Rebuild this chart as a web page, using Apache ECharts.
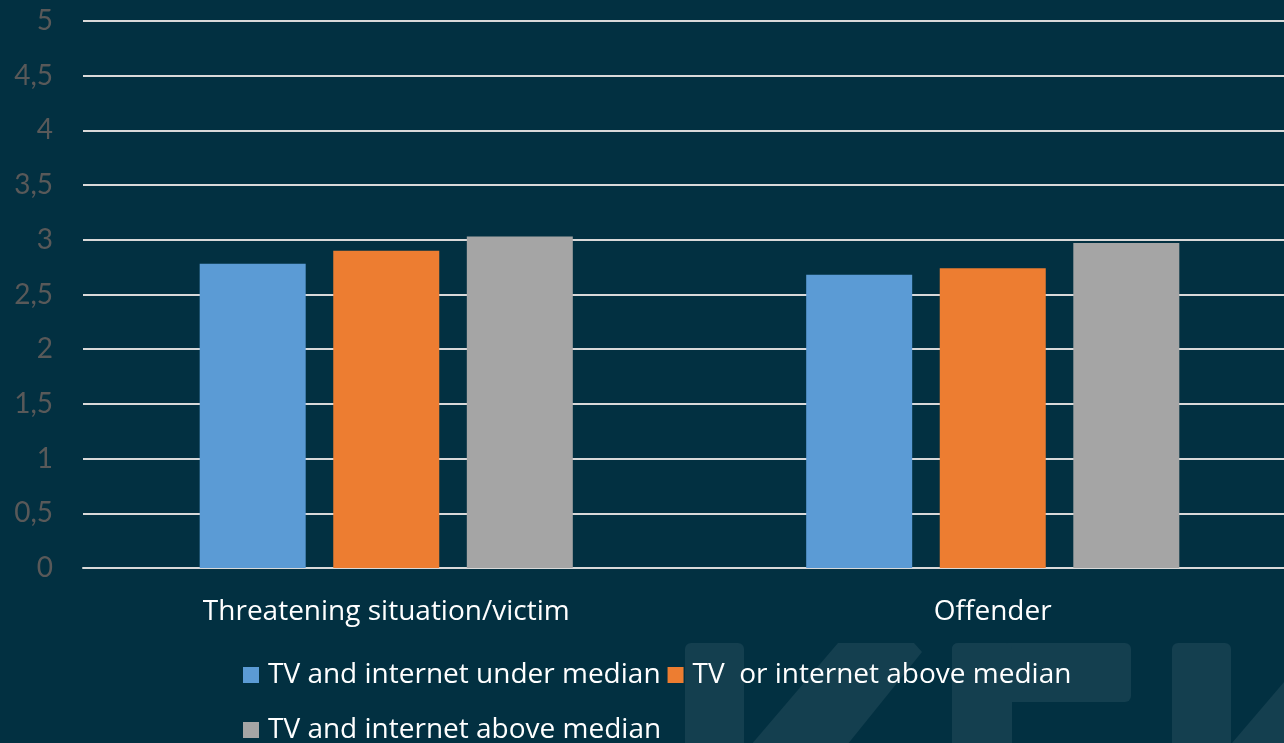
<!DOCTYPE html>
<html>
<head>
<meta charset="utf-8">
<script src="https://cdn.jsdelivr.net/npm/echarts@6/dist/echarts.min.js"></script>
<style>
html,body{margin:0;padding:0;background:#023041;overflow:hidden;width:1284px;height:743px;}
#chart{width:1296px;height:743px;}
</style>
</head>
<body>
<div id="chart"></div>
<script>
const categories = ['Threatening situation/victim', 'Offender'];
const seriesNames = ['TV and internet under median', 'TV  or internet above median', 'TV and internet above median'];
const underMedian = [2.78, 2.68];
const eitherAbove = [2.90, 2.74];
const bothAbove = [3.03, 2.97];
const yTicks = { min: 0, max: 5, interval: 0.5 };

const colors = ['#5B9BD5', '#ED7D31', '#A5A5A5'];
const wm = '#143f4f';
const FONT = '"Open Sans"';

const chart = echarts.init(document.getElementById('chart'), null, { renderer: 'canvas' });
chart.setOption({
  backgroundColor: '#023041',
  animation: false,
  color: colors,
  graphic: [
    { type: 'rect', z: -10, shape: { x: 685, y: 643, width: 59, height: 120, r: 6 }, style: { fill: wm } },
    { type: 'polygon', z: -10, shape: { points: [[838, 643], [914, 643], [922, 652], [835, 760], [745, 760], [745, 752]] }, style: { fill: wm } },
    { type: 'rect', z: -10, shape: { x: 952, y: 643, width: 179, height: 59, r: 6 }, style: { fill: wm } },
    { type: 'rect', z: -10, shape: { x: 952, y: 643, width: 60, height: 120, r: 6 }, style: { fill: wm } },
    { type: 'rect', z: -10, shape: { x: 1172, y: 643, width: 59, height: 120, r: 6 }, style: { fill: wm } },
    { type: 'polygon', z: -10, shape: { points: [[1232, 743], [1296, 668], [1296, 743]] }, style: { fill: wm } }
  ],
  grid: { left: 83, top: 21, right: 0, bottom: 175, containLabel: false },
  legend: [
    {
      data: [seriesNames[0], seriesNames[1]],
      left: 243, top: 660, padding: 0, itemGap: 7,
      itemWidth: 16, itemHeight: 16, icon: 'rect',
      textStyle: { color: '#ffffff', fontFamily: FONT, fontSize: 28, lineHeight: 30, padding: [0, 0, 0, 4] }
    },
    {
      data: [seriesNames[2]],
      left: 243, top: 715, padding: 0, itemGap: 7,
      itemWidth: 16, itemHeight: 16, icon: 'rect',
      textStyle: { color: '#ffffff', fontFamily: FONT, fontSize: 28, lineHeight: 30, padding: [0, 0, 0, 4] }
    }
  ],
  xAxis: {
    type: 'category',
    data: categories,
    axisLine: { show: true, lineStyle: { color: '#d9d9d9', width: 2 } },
    axisTick: { show: false },
    axisLabel: { color: '#ffffff', fontFamily: FONT, fontSize: 28, margin: 30 }
  },
  yAxis: {
    type: 'value',
    min: yTicks.min, max: yTicks.max, interval: yTicks.interval,
    axisLine: { show: false },
    axisTick: { show: false },
    splitLine: { lineStyle: { color: '#d9d9d9', width: 2 } },
    axisLabel: {
      color: '#595959', fontFamily: 'Lato', fontSize: 28, margin: 30,
      formatter: v => String(v).replace('.', ',')
    }
  },
  series: [
    { name: seriesNames[0], type: 'bar', data: underMedian, barWidth: 106, barGap: '26%' },
    { name: seriesNames[1], type: 'bar', data: eitherAbove, barWidth: 106, barGap: '26%' },
    { name: seriesNames[2], type: 'bar', data: bothAbove, barWidth: 106, barGap: '26%' }
  ]
});
</script>
</body>
</html>
